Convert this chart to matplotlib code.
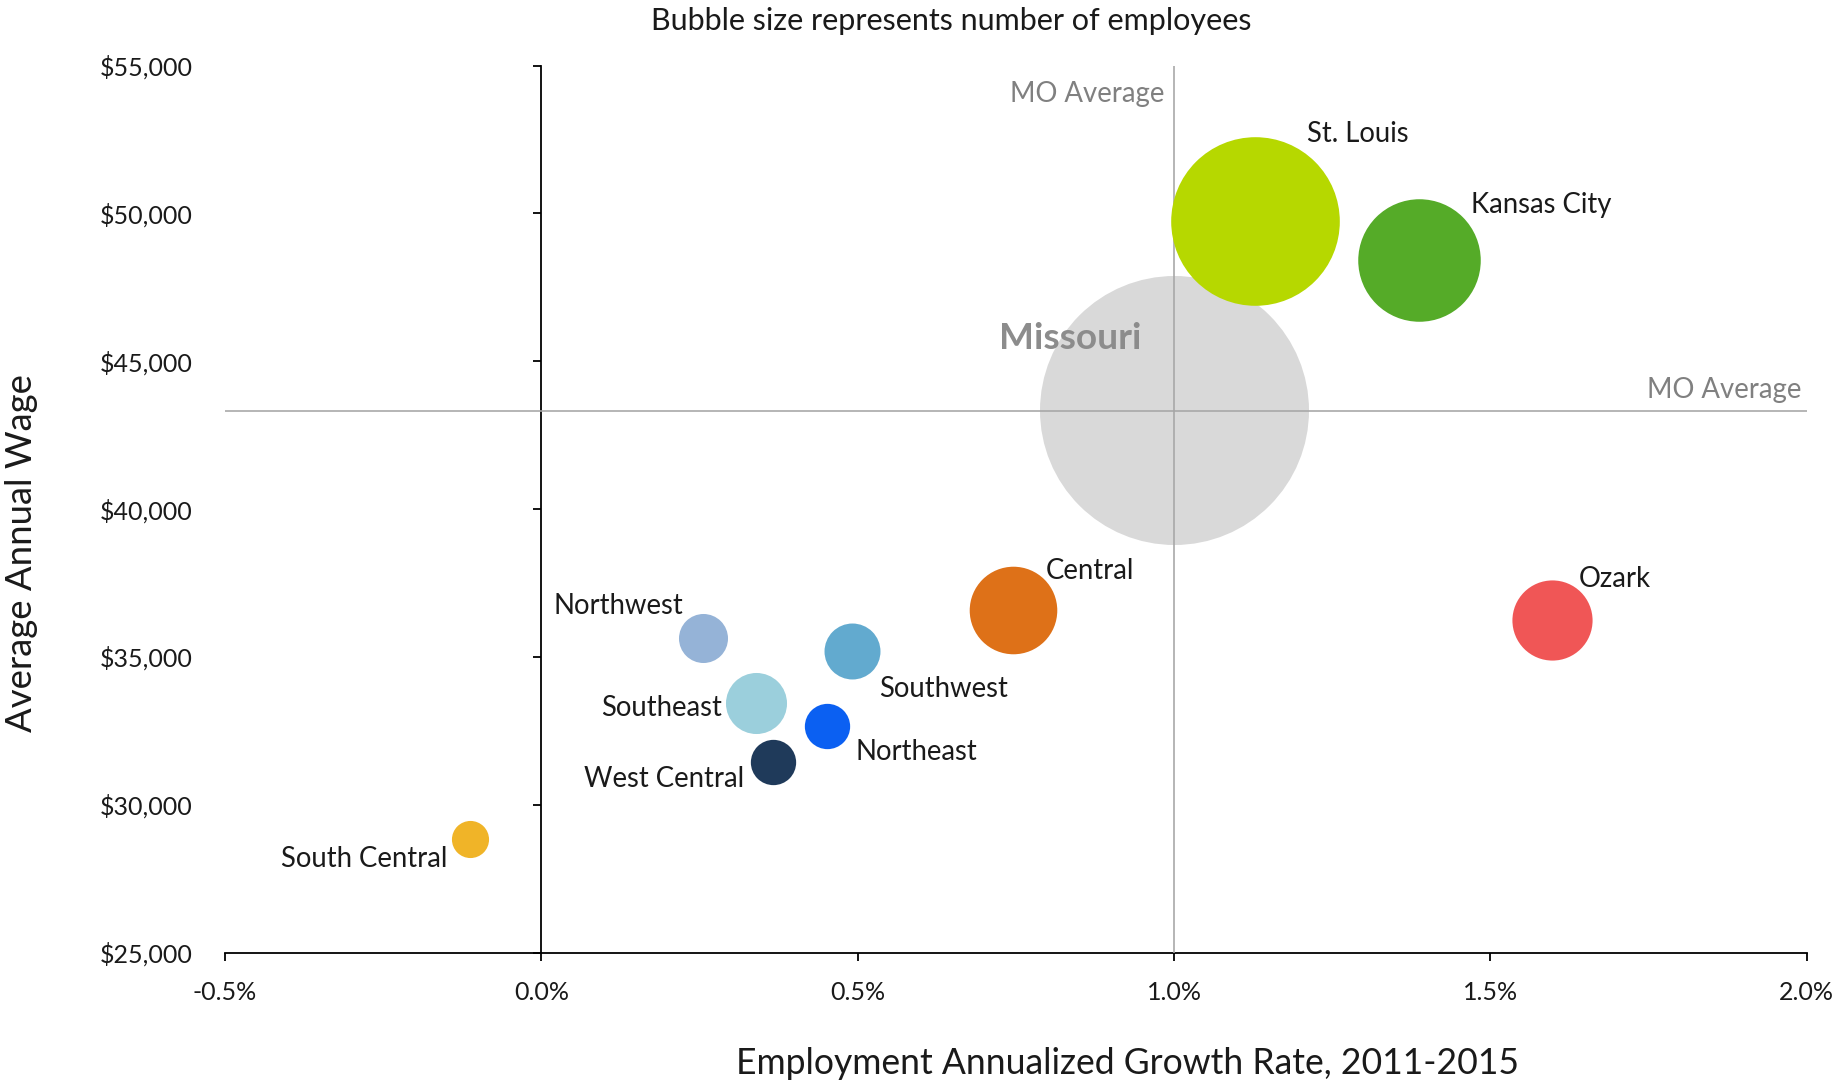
import matplotlib
matplotlib.use("Agg")
import matplotlib.pyplot as plt
from matplotlib.ticker import FuncFormatter

# ---------------- data ----------------
regions = ["Missouri", "St. Louis", "Kansas City", "Central", "Ozark",
           "Southeast", "Southwest", "Northwest", "Northeast", "West Central",
           "South Central"]
growth = [1.00, 1.128, 1.387, 0.746, 1.598, 0.339, 0.491, 0.256, 0.452, 0.367, -0.113]  # %
wage = [43350, 49730, 48420, 36580, 36260, 33450, 35190, 35630, 32650, 31430, 28850]   # $
employees = [2680000, 1053000, 556000, 284000, 238000, 138000, 116000, 89000, 76000, 76000, 51000]

mo_avg_growth = 1.00
mo_avg_wage = 43300

xticks = [-0.5, 0.0, 0.5, 1.0, 1.5, 2.0]
yticks = [25000, 30000, 35000, 40000, 45000, 50000, 55000]

title = "Bubble size represents number of employees"
xlabel = "Employment Annualized Growth Rate, 2011-2015"
ylabel = "Average Annual Wage"

# ---------------- style ----------------
colors = ["#D9D9D9", "#B6D800", "#55AB28", "#DE7118", "#F05656",
          "#9BCFDC", "#62AACF", "#95B3D7", "#0B60F2", "#1F3A5A", "#F0B428"]
# label offsets in points (dpi=72 -> points == pixels)
label_offsets = {
    "St. Louis": (52, 87, "left"),
    "Kansas City": (52, 55, "left"),
    "Ozark": (26, 41, "left"),
    "Central": (32, 39, "left"),
    "Northwest": (-20, 32, "right"),
    "Southwest": (27, -38, "left"),
    "Southeast": (-34, -5, "right"),
    "Northeast": (28, -26, "left"),
    "West Central": (-29, -17, "right"),
    "South Central": (-22, -20, "right"),
}
SIZE_SCALE = 0.027  # points^2 per employee

FONT = ["Lato", "DejaVu Sans"]
plt.rcParams["font.family"] = FONT
TXT = "#1A1A1A"
GRAY_TXT = "#808080"

DPI = 72
W, H = 1837, 1081
fig = plt.figure(figsize=(W / DPI, H / DPI), dpi=DPI)
ax_l, ax_r, ax_t, ax_b = 225, 1806.6, 65.6, 952.5
ax = fig.add_axes([ax_l / W, 1 - ax_b / H, (ax_r - ax_l) / W, (ax_b - ax_t) / H])
aw, ah = ax_r - ax_l, ax_b - ax_t

xmin, xmax = xticks[0], xticks[-1]
ymin, ymax = yticks[0], yticks[-1]
ax.set_xlim(xmin, xmax)
ax.set_ylim(ymin, ymax)

# MO average lines
ax.axvline(mo_avg_growth, color="#A6A6A6", lw=1.6, zorder=3)
ax.axhline(mo_avg_wage, color="#A6A6A6", lw=1.6, zorder=3)

# bubbles
for i, r in enumerate(regions):
    ax.scatter(growth[i], wage[i], s=employees[i] * SIZE_SCALE, color=colors[i],
               linewidths=0, zorder=2 if i == 0 else 4)

# labels
for i, r in enumerate(regions):
    if r == "Missouri":
        ax.annotate(r, (growth[i], wage[i]), xytext=(-104, 72), textcoords="offset points",
                    ha="center", va="center", fontsize=37, fontweight="bold",
                    color="#8C8C8C", zorder=5)
    else:
        dx, dy, ha = label_offsets[r]
        ax.annotate(r, (growth[i], wage[i]), xytext=(dx, dy), textcoords="offset points",
                    ha=ha, va="center", fontsize=27.5, color=TXT, zorder=5)

ax.annotate("MO Average", (mo_avg_growth, ymax), xytext=(-10, -28), textcoords="offset points",
            ha="right", va="center", fontsize=27.5, color=GRAY_TXT)
ax.annotate("MO Average", (xmax, mo_avg_wage), xytext=(-5, 21), textcoords="offset points",
            ha="right", va="center", fontsize=27.5, color=GRAY_TXT)

# axes styling
for s in ["top", "right"]:
    ax.spines[s].set_visible(False)
ax.spines["left"].set_position(("data", 0))
ax.spines["left"].set_linewidth(1.8)
ax.spines["bottom"].set_linewidth(1.8)
ax.set_xticks(xticks)
ax.set_yticks(yticks)
ax.xaxis.set_major_formatter(FuncFormatter(lambda v, p: f"{v:.1f}%"))
ax.tick_params(axis="x", direction="out", length=8, width=1.8, pad=20, labelsize=25, labelcolor=TXT)
ax.tick_params(axis="y", direction="out", length=8, width=1.8, labelleft=False)

sec = ax.secondary_yaxis("left")
sec.spines["left"].set_visible(False)
sec.set_yticks(yticks)
sec.yaxis.set_major_formatter(FuncFormatter(lambda v, p: f"${v:,.0f}"))
sec.tick_params(axis="y", length=0, pad=32, labelsize=25, labelcolor=TXT)

ax.set_title(title, fontsize=30.5, color=TXT, pad=0, va="center",
             x=(951 - ax_l) / aw, y=1 + (ax_t - 21) / ah)

ax.set_xlabel(xlabel, fontsize=35.5, color=TXT, va="center", ha="center")
ax.xaxis.set_label_coords((1127 - ax_l) / aw, (ax_b - 1064) / ah)
ax.set_ylabel(ylabel, fontsize=36.5, color=TXT, va="center", ha="center")
ax.yaxis.set_label_coords((21 - ax_l) / aw, (ax_b - 553) / ah)

fig.savefig("out.png", dpi=DPI)
